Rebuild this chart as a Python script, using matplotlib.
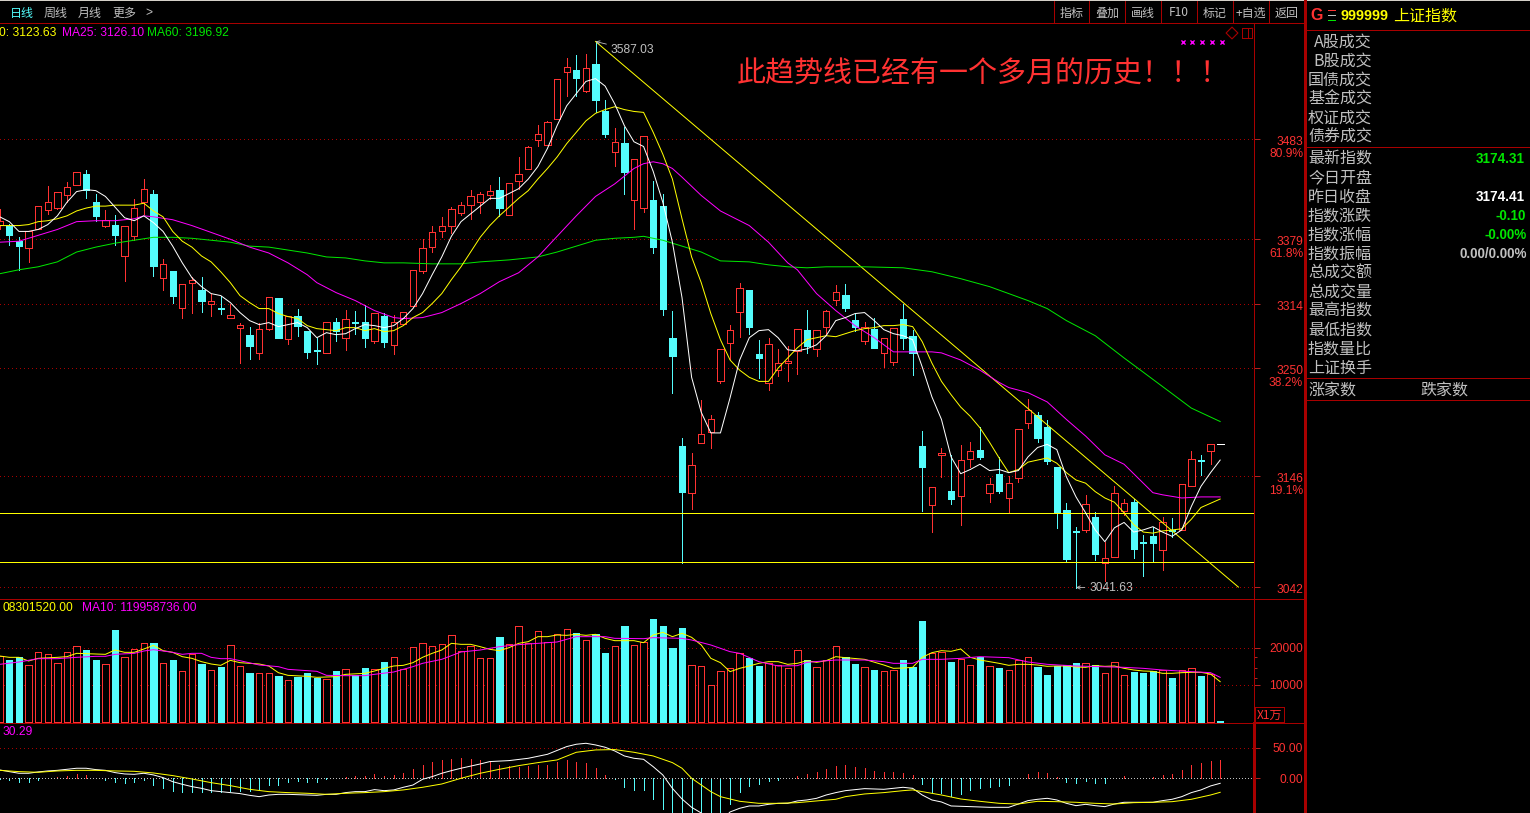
# plot.py
# Shanghai composite daily chart in a dark trading terminal layout
import matplotlib
matplotlib.use('Agg')
import matplotlib.pyplot as plt
from matplotlib.patches import Rectangle
from matplotlib.ticker import NullLocator
from matplotlib.transforms import ScaledTranslation

W, H = 1530, 813
BORDER = '#a80000'
RED = '#ff3232'
CYAN = '#54fcfc'
GRAY = '#c0c0c0'
YELLOW = '#ffff00'
MAGENTA = '#ff00ff'
GREEN = '#00e600'
CJK = ['Noto Sans CJK SC', 'DejaVu Sans']
LATIN = ['Liberation Sans', 'DejaVu Sans']
LW = 0.5
CURVE_LW = 0.72

opens = [3394,3393,3377,3370,3389,3409,3411,3424,3435,3446,3417,3393,3394,3362,3382,3417,3426,3340,3347,3310,
         3335,3328,3314,3310,3300,3290,3283,3265,3289,3320,3279,3302,3287,3268,3265,3296,3280,3296,3296,3277,
         3302,3273,3294,3312,3347,3371,3387,3393,3406,3414,3417,3424,3430,3404,3439,3451,3482,3477,3504,3554,
         3556,3534,3563,3512,3469,3479,3419,3411,3419,3413,3280,3174,3130,3177,3188,3237,3275,3306,3328,3264,
         3235,3248,3255,3267,3288,3269,3291,3318,3323,3298,3277,3289,3265,3256,3299,3282,3174,3118,3166,3132,
         3127,3162,3171,3130,3148,3125,3144,3197,3204,3193,3154,3114,3094,3095,3107,3064,3070,3113,3121,3084,
         3089,3076,3095,3095,3136,3161,3170,3176.1]
highs = [3410,3395,3381,3387,3413,3434,3428,3438,3448,3450,3425,3409,3404,3393,3420,3441,3430,3359,3347,3334,
         3341,3341,3324,3322,3314,3295,3291,3295,3321,3320,3302,3309,3287,3280,3296,3300,3308,3307,3313,3305,
         3305,3303,3306,3348,3379,3393,3402,3412,3417,3430,3428,3435,3443,3437,3464,3476,3498,3502,3547,3569,
         3572,3574,3587.03,3524,3495,3496,3462,3486,3439,3426,3307,3182,3168,3219,3204,3269,3293,3335,3328,3278,
         3280,3269,3272,3289,3308,3288,3308,3333,3334,3304,3296,3300,3280,3290,3314,3288,3189,3135,3173,3166,
         3175,3178,3193,3144,3164,3146,3191,3220,3207,3199,3154,3120,3098,3128,3112,3084,3136,3124,3124,3090,
         3098,3107,3106,3138,3170,3166,3176,3176.1]
lows = [3389,3373,3348,3356,3389,3405,3410,3417,3435,3421,3398,3392,3373,3337,3378,3405,3342,3328,3315,3300,
        3305,3306,3302,3304,3300,3255,3259,3259,3288,3280,3274,3282,3260,3254,3265,3277,3268,3284,3271,3275,
        3271,3264,3294,3312,3345,3366,3381,3385,3404,3400,3406,3420,3403,3404,3431,3451,3476,3477,3504,3528,
        3528,3533,3511,3485,3455,3425,3389,3407,3365,3303,3226,3064,3115,3177,3173,3235,3259,3281,3284,3240,
        3229,3242,3237,3244,3265,3262,3284,3313,3307,3287,3274,3270,3251,3253,3269,3243,3113,3093,3145,3119,
        3100,3154,3162,3121,3130,3111,3140,3192,3178,3157,3097,3065,3041.63,3093,3067,3048,3070,3109,3069,3052,
        3066,3058,3088,3095,3136,3147,3157,3176]
closes = [3398,3383,3372,3387,3413,3417,3428,3433,3448,3430,3403,3399,3383,3393,3411,3431,3352,3354,3322,3334,
          3338,3317,3317,3309,3303,3293,3272,3289,3321,3280,3302,3292,3266,3267,3296,3287,3299,3295,3280,3305,
          3276,3296,3306,3348,3370,3386,3393,3410,3414,3423,3426,3429,3411,3437,3446,3475,3488,3501,3547,3560,
          3548,3558,3524,3488,3480,3448,3462,3486,3371,3309,3262,3131,3156,3186,3200,3269,3288,3330,3291,3260,
          3274,3255,3257,3289,3272,3288,3307,3326,3310,3291,3291,3270,3280,3290,3280,3265,3154,3135,3168,3124,
          3161,3170,3164,3138,3132,3139,3191,3209,3182,3160,3112,3068,3093,3119,3073,3069,3130,3120,3077,3083,
          3083,3102,3094,3138,3162,3160,3176,3176]

ma5 = [3402,3397,3387,3387,3389,3394,3403,3417,3428,3430,3429,3423,3412,3401,3398,3403,3396,3387,3372,3355,
       3340,3331,3324,3322,3315,3305,3297,3293,3295,3291,3293,3295,3290,3280,3285,3283,3284,3289,3293,3292,
       3290,3292,3299,3309,3324,3343,3361,3382,3397,3405,3413,3421,3421,3426,3431,3441,3454,3473,3497,3518,
       3531,3544,3547,3539,3520,3497,3480,3475,3449,3417,3376,3320,3241,3207,3187,3187,3221,3258,3280,3287,
       3288,3280,3268,3267,3269,3273,3282,3297,3300,3304,3305,3297,3288,3284,3282,3278,3251,3222,3200,3164,
       3148,3152,3157,3151,3152,3149,3151,3164,3173,3176,3171,3145,3126,3111,3095,3084,3097,3102,3093,3095,
       3098,3093,3089,3095,3117,3136,3149,3161]
ma10 = [3393,3393,3393,3394,3397,3398,3400,3403,3408,3411,3413,3413,3414,3414,3414,3416,3408,3402,3387,3377,
        3371,3362,3356,3346,3335,3322,3315,3309,3309,3304,3301,3299,3292,3289,3288,3287,3290,3290,3287,3289,
        3286,3287,3292,3300,3305,3314,3324,3338,3351,3366,3381,3393,3403,3412,3421,3429,3441,3452,3464,3478,
        3490,3502,3510,3514,3517,3514,3512,3511,3490,3467,3441,3400,3361,3335,3304,3278,3258,3248,3241,3237,
        3237,3250,3260,3270,3278,3280,3282,3281,3284,3287,3289,3290,3292,3292,3293,3291,3276,3255,3237,3224,
        3212,3203,3192,3178,3163,3149,3152,3159,3161,3163,3158,3149,3142,3139,3131,3125,3121,3111,3100,3093,
        3092,3094,3095,3096,3105,3116,3120,3124]
ma25_x = [0,2,4,6,8,10,12,14,15,16,18,20,22,24,26,28,30,32,33,35,37,39,41,42,44,46,48,50,52,54,56,58,60,62,64,66,67,
          68,69,70,71,73,75,77,78,80,82,83,85,87,89,91,92,93,95,97,98,100,102,104,105,107,109,111,113,115,117,119,
          120,121,123,125,127]
ma25 = [3376,3377,3383,3389,3397,3398,3398,3400,3403,3402,3399,3393,3386,3379,3371,3365,3355,3343,3335,3325,3317,3307,
        3300,3299,3300,3305,3314,3324,3336,3345,3361,3382,3403,3423,3436,3452,3457,3459,3457,3452,3443,3424,3408,3398,
        3393,3376,3355,3348,3324,3307,3292,3280,3273,3266,3266,3266,3265,3258,3248,3236,3231,3226,3217,3200,3184,3166,
        3157,3139,3130,3128,3125,3126,3126]
ma60_x = [0,2,4,6,8,10,12,14,16,18,20,22,24,26,28,30,32,34,36,38,40,42,45,48,50,53,56,58,60,62,64,66,67,69,71,73,75,78,
          80,82,84,86,90,94,97,100,103,105,107,109,111,114,117,119,122,124,127]
ma60 = [3344,3348,3351,3356,3366,3371,3375,3378,3381,3381,3380,3378,3376,3372,3371,3368,3365,3361,3360,3357,3355,3355,
        3354,3354,3356,3358,3361,3366,3372,3378,3380,3381,3382,3378,3372,3366,3357,3356,3353,3351,3350,3351,3351,3350,
        3346,3339,3331,3324,3317,3309,3297,3282,3260,3246,3225,3211,3198]

trend_x = [62, 128.9]
trend_y = [3587.03, 3042]
support_levels = [3111, 3065]
price_ticks = [3483, 3379, 3314, 3250, 3146, 3042]
ratio_ticks = {3483: '80.9%', 3379: '61.8%', 3250: '38.2%', 3146: '19.1%'}
peak_price = 3587.03
peak_index = 62
low_price = 3041.63
low_index = 112

volume = [17910,16650,17460,15300,18810,18270,15840,18810,20430,19440,16740,15570,24840,17460,19710,21240,21330,15840,
          16740,13680,18270,15660,13950,14760,20700,15030,13230,13140,13140,12420,11250,12150,13230,11880,11520,13770,
          14220,12690,14580,14220,16200,17460,14220,20160,21240,20430,20970,23400,19080,20610,17190,17190,22950,20970,
          25830,21420,24480,21600,23670,25020,24030,22050,23670,18630,20430,25920,20700,21510,27810,25920,19980,25380,
          15300,15030,9900,13680,14490,18540,17280,15120,15840,15300,14490,19350,16650,14760,16650,20430,17550,15660,
          14760,14040,13680,14040,16740,14940,27270,18540,18900,16200,16920,15300,17640,15030,14580,13950,16650,17460,
          14850,12690,15120,15300,15930,15840,15300,13140,16110,12600,13500,13230,13680,14130,11880,13950,14490,12420,
          13050,270]
vol_ma5_x = [0,1,2,3,4,6,7,8,10,11,12,13,14,15,16,17,18,19,20,21,22,23,24,25,27,28,29,30,32,33,35,36,38,39,40,41,42,43,
             44,45,46,47,48,49,50,51,52,53,54,55,56,57,58,59,60,61,62,63,64,65,66,67,68,69,70,71,72,73,74,75,76,77,78,
             79,80,81,82,83,84,85,86,87,88,90,92,93,94,95,96,97,98,99,100,101,102,103,104,105,106,107,108,109,110,111,
             112,113,114,115,116,117,118,119,120,121,122,123,124,125,126,127]
vol_ma5 = [17820,17460,17460,16470,17190,17460,17640,18540,18360,18270,19440,18810,18810,19710,20700,19260,18810,17640,
           17190,16290,15660,15300,16650,16020,15660,15120,13320,12600,12330,12060,12240,12870,13140,13770,14490,15120,
           15300,16020,17460,18540,19440,21240,20970,20970,20340,19620,19260,20070,21240,21690,23040,23040,23490,23400,
           23670,23400,23670,22590,21960,21960,21960,21420,23490,24210,23040,23940,22860,20790,17190,16020,13590,14490,
           15120,15840,16290,16290,15570,15840,16560,16110,16560,17640,17370,16920,15390,14490,14580,14760,17460,18720,
           19260,19080,19710,17460,16740,16290,15840,15300,15570,15570,15390,15030,15120,15120,14850,14760,15210,15030,
           15120,14490,14040,13770,13680,13140,13140,13320,13410,13410,12960,10890]
vol_ma10_x = [0,2,4,6,8,10,11,12,14,15,16,18,19,20,21,22,23,24,25,27,29,30,32,33,34,36,38,39,41,43,44,46,48,50,52,54,56,
              58,60,63,64,67,68,71,72,74,76,77,79,81,83,84,87,88,90,92,93,95,96,98,100,102,105,107,109,112,117,119,121,
              124,126,127]
vol_ma10 = [15570,16200,17100,17100,17460,17730,17730,18270,18540,19170,19530,18810,18270,18540,18540,17460,17100,17100,
            16560,15390,14940,14220,13860,13680,12600,12510,12510,12870,13500,14940,15840,16920,18900,19440,20340,20880,
            21240,21600,23040,23040,22590,22500,22770,22590,22140,20790,18990,18540,16290,15120,15210,16110,16740,16740,
            16740,16290,15840,15840,16920,16920,17190,17640,17370,16200,15570,15120,14760,14490,14040,13590,13320,12060]
vol_ticks = [20000, 10000]
vol_minor_ticks = [17640, 14670, 11970]

macd_hist = [-1,-2.7,-6,-6,-2.7,0,1.6,3.8,7,5,0.5,-2.7,-6,-7.6,-6,-2.7,-11,-16,-21,-22,-22,-22,-22,-22,-21,-21,-21,-17,
             -11,-11,-6,-4,-6,-6,-0.5,0,1.6,3.8,3.8,7,3.8,5.4,8.7,15,21.8,26.7,30,31.6,33,31.6,30,28.3,21.8,20,18.5,20,
             21.8,21.8,26.7,30,26.7,25,17,5.5,-1.6,-14,-19,-19,-34,-50,-70,-85,-80,-75,-70,-60,-42,-22,-12.5,-9,-4.4,
             -2.7,0,3.8,7,10,15,20,21.8,18.5,17,12,10,10,8.7,5.5,-9,-22,-24,-29,-25.6,-19,-16,-14,-12.5,-11,0,7,10,8.7,
             2,-6,-7.6,-4.4,-7.6,-7.6,0,3.8,0,0,2,5.4,7,13.6,21.8,25,28,30]
dif_x = [0,1,2,3,4,5,6,7,8,9,10,11,12,13,14,15,16,17,18,19,20,21,22,23,24,25,26,27,28,29,30,32,33,34,35,36,37,38,39,40,
         41,42,43,44,45,46,47,48,50,51,53,55,57,59,60,61,62,63,64,65,66,67,68,69,70,71,72,73,74,75,76,77,78,79,80,81,
         82,83,84,85,86,87,88,90,92,94,95,96,97,98,99,101,103,105,106,107,108,109,110,111,112,113,114,115,116,117,120,
         121,122,123,124,125,126,127]
dif = [13.6,10.9,8.2,8.2,10.4,12,13,14.7,16.4,16.4,14.2,13,9.3,7.1,6.5,8.2,5.5,1.1,-5.5,-9.8,-13.6,-16.4,-20.2,-21.8,
       -23.4,-25,-27.8,-30,-27.3,-26.2,-26.2,-27.3,-27.8,-26.2,-26.2,-23.4,-21.8,-21.8,-18.5,-20.2,-19,-14.7,-11,-1.6,
       2.7,8.2,12.5,16.4,23.4,27.3,28.9,32.7,39.2,51.8,55.6,57.2,54.5,50.7,44.7,36.5,32.7,31,19,5.5,-16.4,-33.8,-47.4,
       -56.7,-68,-71,-55,-49,-45.2,-45.2,-42.5,-40.9,-40.9,-37,-35.4,-32.7,-27.3,-23.4,-20.2,-16.9,-18,-14.7,-16.4,
       -27.3,-35.4,-38.7,-45.2,-46.3,-47.4,-47.4,-42,-36.5,-34.3,-32.7,-35.4,-40.9,-44.7,-42.5,-44.7,-46.3,-42,-39.2,
       -39.2,-36.5,-34.3,-30,-23.4,-19,-12.5,-8.2]
dea_x = [0,2,4,6,8,10,12,14,16,18,20,22,24,26,28,30,32,34,36,38,40,42,44,46,48,50,52,54,56,58,60,62,64,66,68,70,71,72,73,
         74,75,77,79,81,83,85,87,88,90,92,94,95,96,98,100,102,104,106,108,110,112,114,116,118,120,122,124,126,127]
dea = [13,10.9,9.8,12,13,13,12,11.4,8.7,4.4,-1.1,-7.1,-12,-18,-21.8,-23.4,-24.5,-26.2,-24.5,-23.4,-21.8,-19,-14.7,-9.3,
       0,8.2,14.7,20.7,25.6,30,42.5,46.3,46.9,42.5,36.5,25.6,16.4,0,-10.9,-21.8,-30,-37.6,-40.9,-40.9,-39.8,-37,-34.3,
       -30,-25.6,-23.4,-20.2,-19,-21.8,-27.3,-33.8,-37.6,-40.9,-42,-37.6,-38.2,-39.2,-40.9,-42,-39.8,-39.2,-38.2,-34.3,
       -27.3,-22.9]
macd_ticks = [50, 0]
macd_labels = ['50.00', '0.00']

main_labels = ['最新指数', '今日开盘', '昨日收盘', '指数涨跌', '指数涨幅', '指数振幅',
               '总成交额', '总成交量', '最高指数', '最低指数', '指数量比', '上证换手']
trade_labels = ['A股成交', 'B股成交', '国债成交', '基金成交', '权证成交', '债券成交']
nav_labels = ['日线', '周线', '月线', '更多']
tool_labels = ['指标', '叠加', '画线', 'F10', '标记', '+自选', '返回']


def px_axes(x0, y0, x1, y1):
    ax = fig.add_axes([x0 / W, 1 - y1 / H, (x1 - x0) / W, (y1 - y0) / H])
    ax.set_facecolor('black')
    ax.set_xlim(0.3 / 9.61, 1254.3 / 9.61)
    ax.set_xticks([])
    for side in ax.spines.values():
        side.set_visible(False)
    return ax


def dotted(ax, levels, color=BORDER):
    for lev in levels:
        ax.axhline(lev, color=color, lw=LW, ls=(0, (1.4, 4.4)), antialiased=False, zorder=1)


def right_ticks(ax, ticks, labels, shift=0.0, size=8.64, pad=31):
    ax.yaxis.tick_right()
    ax.set_yticks(ticks, labels=labels)
    ax.yaxis.set_minor_locator(NullLocator())
    ax.tick_params(axis='y', which='major', length=4.3, width=LW, color=RED, labelcolor=RED,
                   labelsize=size, pad=pad)
    down = ScaledTranslation(0, -shift / 100, fig.dpi_scale_trans)
    for tick in ax.yaxis.get_major_ticks():
        tick.label2.set_ha('right')
        tick.label2.set_family(LATIN)
        tick.label2.set_transform(tick.label2.get_transform() + down)


fig = plt.figure(figsize=(W / 100, H / 100), dpi=100, facecolor='black')
xs = list(range(len(closes)))
up = [c >= o for o, c in zip(opens, closes)]

# candles
ax1 = px_axes(0, 24, 1254, 598)
ax1.set_yscale('log')
ax1.set_ylim(3032, 3606)
dotted(ax1, price_ticks)
right_ticks(ax1, price_ticks, [str(p) for p in price_ticks], shift=1.5)
for price, txt in ratio_ticks.items():
    ax1.annotate(txt, xy=(1, price), xycoords=ax1.get_yaxis_transform(), xytext=(49, -15),
                 textcoords='offset pixels', ha='right', va='center', color=RED, fontsize=8.64, family=LATIN)
for i in xs[:-1]:
    col = RED if up[i] else CYAN
    ax1.vlines(i, lows[i], highs[i], color=col, lw=LW, antialiased=False, zorder=2)
    lo, hi = min(opens[i], closes[i]), max(opens[i], closes[i])
    ax1.bar(i, hi - lo, bottom=lo, width=0.66, facecolor='black' if up[i] else CYAN, edgecolor=col,
            lw=LW, antialiased=False, zorder=3)
ax1.hlines(closes[-1], xs[-1] - 0.35, xs[-1] + 0.35, color='white', lw=LW, antialiased=False, zorder=3)
for lev in support_levels:
    ax1.axhline(lev, color=YELLOW, lw=LW, antialiased=False, zorder=4)
ax1.plot(trend_x, trend_y, color=YELLOW, lw=CURVE_LW, zorder=4)
ax1.plot(ma60_x, ma60, color=GREEN, lw=CURVE_LW, zorder=5)
ax1.plot(ma25_x, ma25, color=MAGENTA, lw=CURVE_LW, zorder=5)
ax1.plot(xs, ma10, color=YELLOW, lw=CURVE_LW, zorder=5)
ax1.plot(xs, ma5, color='white', lw=CURVE_LW, zorder=5)
arrow = dict(arrowstyle='->', color=GRAY, lw=0.6, shrinkA=1, shrinkB=0, mutation_scale=6)
ax1.annotate(f'{peak_price:.2f}', xy=(peak_index, peak_price), xytext=(15, -9), textcoords='offset pixels',
             color=GRAY, fontsize=8.64, family=LATIN, va='center', arrowprops=arrow, zorder=6)
ax1.annotate(f'{low_price:.2f}', xy=(low_index, low_price), xytext=(13, 0), textcoords='offset pixels',
             color=GRAY, fontsize=8.64, family=LATIN, va='center', arrowprops=arrow, zorder=6)

# volume
ax2 = px_axes(0, 600, 1254, 723)
ax2.set_ylim(-270, 32940)
dotted(ax2, vol_ticks)
right_ticks(ax2, vol_ticks, [str(v) for v in vol_ticks])
ax2.set_yticks(vol_minor_ticks, minor=True)
ax2.tick_params(axis='y', which='minor', length=2.2, width=LW, color=RED)
for i in xs:
    ax2.bar(i, volume[i], width=0.66, facecolor='black' if up[i] else CYAN, edgecolor=RED if up[i] else CYAN,
            lw=LW, antialiased=False, zorder=2)
ax2.plot(vol_ma5_x, vol_ma5, color=YELLOW, lw=CURVE_LW, zorder=4)
ax2.plot(vol_ma10_x, vol_ma10, color=MAGENTA, lw=CURVE_LW, zorder=5)

# macd
ax3 = px_axes(0, 724, 1254, 813)
ax3.set_ylim(-56.7, 88.7)
dotted(ax3, [50])
right_ticks(ax3, macd_ticks, macd_labels)
ax3.vlines(xs, 0, macd_hist, colors=[RED if v >= 0 else CYAN for v in macd_hist], lw=LW,
           antialiased=False, zorder=2)
ax3.axhline(0, color=GRAY, lw=LW, ls=(0, (1.4, 2.9)), antialiased=False, zorder=3)
ax3.plot(dif_x, dif, color='white', lw=CURVE_LW, zorder=4)
ax3.plot(dea_x, dea, color=YELLOW, lw=CURVE_LW, zorder=5)

# frame, buttons and side panel, in pixel coordinates
ov = fig.add_axes([0, 0, 1, 1], zorder=10)
ov.set_xlim(0, W)
ov.set_ylim(H, 0)
ov.axis('off')


def hline(y, x0=0, x1=1305, color=BORDER, lw=LW):
    ov.plot([x0, x1], [y, y], color=color, lw=lw, antialiased=False)


def vline(x, y0, y1, color=BORDER, lw=LW):
    ov.plot([x, x], [y0, y1], color=color, lw=lw, antialiased=False)


def put(x, y, s, color=GRAY, px=12, family=CJK, ha='left', weight='normal'):
    ov.text(x, y, s, color=color, fontsize=px * 0.72, family=family, ha=ha, va='center', fontweight=weight)


hline(0.5, 0, W, color='#d4d0c8')
hline(23)
hline(599)
hline(723, 0, 1305)
hline(30, 1305, W)
hline(147, 1305, W)
hline(378, 1305, W)
hline(400, 1305, W)
vline(1254, 24, 723)
vline(1254.5, 723, 813, lw=1.0)
vline(1305, 1, 813, lw=0.8)
for x in [1054, 1089, 1125, 1161, 1197, 1233, 1269]:
    vline(x, 1, 23)

for x, lab, col in zip([10, 44, 78, 112], nav_labels, [CYAN, GRAY, GRAY, GRAY]):
    put(x, 13, lab, color=col)
put(145, 13, '>', family=LATIN)
for x, lab in zip([1071.5, 1107, 1143, 1179, 1215, 1251, 1287], tool_labels):
    put(x, 13, lab, ha='center')

put(56, 33, '0: 3123.63', color=YELLOW, family=LATIN, ha='right')
put(62, 33, 'MA25: 3126.10', color=MAGENTA, family=LATIN)
put(147, 33, 'MA60: 3196.92', color=GREEN, family=LATIN)
put(3, 608, '08301520.00', color=YELLOW, family=LATIN)
put(82, 608, 'MA10: 119958736.00', color=MAGENTA, family=LATIN)
put(3, 732, '30.29', color=MAGENTA, family=LATIN)

put(737, 75, '此趋势线已经有一个多月的历史！！！', color=RED, px=29)
ov.scatter([1183, 1192, 1202, 1212, 1222], [42, 42, 42, 42, 42], marker='x', s=9, color=MAGENTA, linewidths=1)
ov.scatter([1232], [33], marker='D', s=36, facecolors='none', edgecolors=BORDER, linewidths=0.8)
ov.add_patch(Rectangle((1242, 28), 10, 10, fill=False, edgecolor=BORDER, lw=LW, antialiased=False))
vline(1248, 28, 38)

ov.add_patch(Rectangle((1255, 707), 29, 15, fill=False, edgecolor=BORDER, lw=LW, antialiased=False))
put(1257, 715, 'X1万', color=RED)

put(1310, 16, 'G', color=RED, px=16, family=LATIN, weight='bold')
for y, col in zip([10, 15, 20], [RED, GRAY, GREEN]):
    hline(y, 1328, 1335, color=col)
put(1341, 16, '999999', color=YELLOW, px=14.4, family=LATIN, weight='bold')
put(1393, 16, '上证指数', color=YELLOW, px=16)

for i, lab in enumerate(trade_labels):
    put(1372, 42.5 + 19 * i, lab, px=16, ha='right')
for i, lab in enumerate(main_labels):
    put(1308, 159.5 + 19 * i, lab, px=16)
put(1308, 391.5, '涨家数', px=16)
put(1420, 391.5, '跌家数', px=16)

put(1525, 159, '3174.31', color=GREEN, px=13.5, family=LATIN, ha='right', weight='bold')
put(1525, 197, '3174.41', color='white', px=13.5, family=LATIN, ha='right', weight='bold')
put(1526, 216, '-0.10', color=GREEN, px=13.5, family=LATIN, ha='right', weight='bold')
put(1527, 235, '-0.00%', color=GREEN, px=13.5, family=LATIN, ha='right', weight='bold')
put(1527, 254, '0.00/0.00%', color=GRAY, px=13.5, family=LATIN, ha='right', weight='bold')

fig.savefig('out.png', dpi=100, facecolor='black')
